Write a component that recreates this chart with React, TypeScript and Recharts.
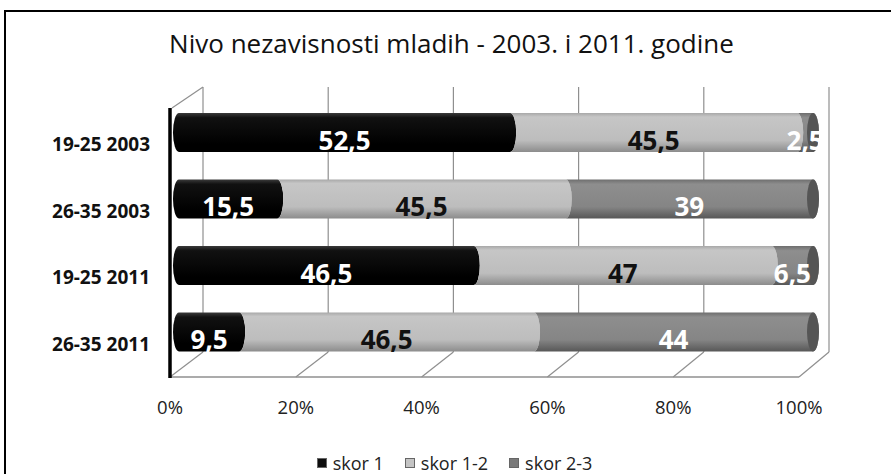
import React from "react";
import { BarChart, Bar, XAxis, YAxis, LabelList, Legend } from "recharts";

// ---- data ----
const categories = ["19-25 2003", "26-35 2003", "19-25 2011", "26-35 2011"];
const skor1 = [52.5, 15.5, 46.5, 9.5];
const skor12 = [45.5, 45.5, 47, 46.5];
const skor23 = [2.5, 39, 6.5, 44];
const seriesNames = ["skor 1", "skor 1-2", "skor 2-3"];
const xTicks = [0, 0.2, 0.4, 0.6, 0.8, 1];

const data = categories.map((name, i) => ({
  name,
  s1: skor1[i],
  s12: skor12[i],
  s23: skor23[i],
}));

// ---- layout ----
const W = 891;
const H = 474;
const PLOT_LEFT = 179;
const PLOT_RIGHT = 813;
const PLOT_TOP = 99;
const PLOT_BOTTOM = 365;
const X_AXIS_H = 50;
const BAR_SIZE = 39;
const CAP_RX = 6;

// pseudo-3d frame (back wall + floor)
const WALL_LEFT = 203;
const WALL_RIGHT = 829;
const WALL_TOP = 87;
const WALL_BOTTOM = 352;
const FLOOR_LEFT = 170;
const FLOOR_RIGHT = 799;
const FLOOR_Y = 377;

const FONT = "'Open Sans', 'Noto Sans', sans-serif";
const GRID = "#8f8f8f";

const legendColors: Record<string, string> = {
  s1: "#0d0d0d",
  s12: "#c4c4c4",
  s23: "#7a7a7a",
};

const fmt = (v: number) => String(v).replace(".", ",");

// cylinder-ish segment: rounded left end on the first series, concave on the others
const makeShape = (gradId: string, first: boolean, last: boolean, capFill: string) => (props: any) => {
  const { x, y, width, height } = props;
  if (!width || width <= 0) return null;
  const ry = height / 2;
  const x2 = x + width;
  const yb = y + height;
  const leftArc = first
    ? `A${CAP_RX},${ry} 0 0 1 ${x},${y}`
    : `A${CAP_RX},${ry} 0 0 0 ${x},${y}`;
  const d = `M${x},${y} L${x2},${y} A${CAP_RX},${ry} 0 0 1 ${x2},${yb} L${x},${yb} ${leftArc} Z`;
  return (
    <g>
      <path d={d} fill={`url(#${gradId})`} />
      {last && <ellipse cx={x2} cy={y + ry} rx={CAP_RX} ry={ry} fill={capFill} />}
    </g>
  );
};

const makeLabel = (color: string) => (props: any) => {
  const { x, y, width, height, value } = props;
  return (
    <text
      x={Number(x) + Number(width) / 2}
      y={Number(y) + Number(height) / 2 + 7}
      fill={color}
      textAnchor="middle"
      dominantBaseline="central"
      fontSize={26}
      fontWeight={700}
      fontFamily={FONT}
    >
      {fmt(value)}
    </text>
  );
};

const XTick = (props: any) => {
  const { x, payload } = props;
  // labels sit on the front edge of the floor
  const fx = FLOOR_LEFT + ((x - PLOT_LEFT) * (FLOOR_RIGHT - FLOOR_LEFT)) / (PLOT_RIGHT - PLOT_LEFT);
  return (
    <text x={fx} y={FLOOR_Y + 29} textAnchor="middle" dominantBaseline="central" fontSize={18.5} fontFamily={FONT} fill="#222">
      {Math.round(payload.value * 100)}%
    </text>
  );
};

const YTick = (props: any) => {
  const { x, y, payload } = props;
  return (
    <text x={x} y={y + 12} textAnchor="end" dominantBaseline="central" fontSize={19} fontWeight={700} fontFamily={FONT} fill="#111">
      {payload.value}
    </text>
  );
};

const LegendContent = (props: any) => {
  const { payload } = props;
  return (
    <div
      style={{
        display: "flex",
        justifyContent: "center",
        paddingLeft: 18,
        gap: 21,
        fontFamily: FONT,
        fontSize: 18,
        color: "#222",
        lineHeight: "18px",
        height: 18,
      }}
    >
      {(payload || []).map((p: any) => (
        <span key={p.value} style={{ display: "flex", alignItems: "center" }}>
          <span
            style={{
              width: 10,
              height: 10,
              marginRight: 6,
              background: legendColors[p.dataKey],
              border: "1px solid #666",
              boxSizing: "border-box",
            }}
          />
          {p.value}
        </span>
      ))}
    </div>
  );
};

function Frame() {
  return (
    <svg width={W} height={H} style={{ position: "absolute", left: 0, top: 0 }}>
      {xTicks.map((t) => {
        const wx = WALL_LEFT + t * (WALL_RIGHT - WALL_LEFT);
        const fx = FLOOR_LEFT + t * (FLOOR_RIGHT - FLOOR_LEFT);
        return (
          <g key={t}>
            <line x1={wx} y1={WALL_TOP} x2={wx} y2={WALL_BOTTOM} stroke={GRID} strokeWidth={1.2} />
            <line x1={fx} y1={FLOOR_Y} x2={wx} y2={WALL_BOTTOM} stroke={GRID} strokeWidth={1.2} />
          </g>
        );
      })}
      <line x1={FLOOR_LEFT} y1={FLOOR_Y} x2={FLOOR_RIGHT} y2={FLOOR_Y} stroke={GRID} strokeWidth={1.4} />
      <line x1={FLOOR_LEFT + 2} y1={108} x2={WALL_LEFT} y2={WALL_TOP} stroke={GRID} strokeWidth={1.2} />
      <line x1={FLOOR_LEFT} y1={108} x2={FLOOR_LEFT} y2={FLOOR_Y + 1} stroke="#000" strokeWidth={3.5} />
    </svg>
  );
}

export default function App() {
  return (
    <div style={{ position: "absolute", left: 0, top: 0, width: W, height: H, overflow: "hidden", background: "#fff" }}>
      <div
        style={{
          position: "absolute",
          left: 4,
          top: 10,
          width: W + 20,
          height: H + 20,
          border: "2.5px solid #000",
        }}
      />
      <div
        style={{
          position: "absolute",
          left: 12,
          top: 27,
          width: W - 12,
          textAlign: "center",
          fontFamily: FONT,
          fontSize: 26,
          lineHeight: "32px",
          color: "#111",
        }}
      >
        Nivo nezavisnosti mladih - 2003. i 2011. godine
      </div>
      <Frame />
      <div style={{ position: "absolute", left: 0, top: 0 }}>
        <BarChart
          width={W}
          height={H}
          data={data}
          layout="vertical"
          stackOffset="expand"
          margin={{ top: PLOT_TOP, right: W - PLOT_RIGHT, bottom: H - PLOT_BOTTOM - X_AXIS_H, left: 0 }}
        >
          <defs>
            <linearGradient id="gS1" x1="0" y1="0" x2="0" y2="1">
              <stop offset="0%" stopColor="#3a3a3a" />
              <stop offset="12%" stopColor="#111" />
              <stop offset="80%" stopColor="#000" />
              <stop offset="100%" stopColor="#000" />
            </linearGradient>
            <linearGradient id="gS12" x1="0" y1="0" x2="0" y2="1">
              <stop offset="0%" stopColor="#a8a8a8" />
              <stop offset="10%" stopColor="#c6c6c6" />
              <stop offset="70%" stopColor="#bdbdbd" />
              <stop offset="100%" stopColor="#8c8c8c" />
            </linearGradient>
            <linearGradient id="gS23" x1="0" y1="0" x2="0" y2="1">
              <stop offset="0%" stopColor="#6e6e6e" />
              <stop offset="12%" stopColor="#8e8e8e" />
              <stop offset="70%" stopColor="#858585" />
              <stop offset="100%" stopColor="#575757" />
            </linearGradient>
          </defs>
          <XAxis
            type="number"
            domain={[0, 1]}
            ticks={xTicks}
            interval={0}
            axisLine={false}
            tickLine={false}
            height={X_AXIS_H}
            tick={XTick}
          />
          <YAxis
            type="category"
            dataKey="name"
            width={PLOT_LEFT}
            axisLine={false}
            tickLine={false}
            tickSize={0}
            tickMargin={29}
            tick={YTick}
          />
          <Legend
            verticalAlign="middle"
            align="center"
            layout="horizontal"
            wrapperStyle={{ top: 454, left: 0, width: W, height: 18 }}
            content={LegendContent}
          />
          <Bar dataKey="s1" name={seriesNames[0]} stackId="a" fill="url(#gS1)" barSize={BAR_SIZE} isAnimationActive={false} shape={makeShape("gS1", true, false, "#222")}>
            <LabelList dataKey="s1" content={makeLabel("#fff")} />
          </Bar>
          <Bar dataKey="s12" name={seriesNames[1]} stackId="a" fill="url(#gS12)" barSize={BAR_SIZE} isAnimationActive={false} shape={makeShape("gS12", false, false, "#999")}>
            <LabelList dataKey="s12" content={makeLabel("#111")} />
          </Bar>
          <Bar dataKey="s23" name={seriesNames[2]} stackId="a" fill="url(#gS23)" barSize={BAR_SIZE} isAnimationActive={false} shape={makeShape("gS23", false, true, "#555")}>
            <LabelList dataKey="s23" content={makeLabel("#fff")} />
          </Bar>
        </BarChart>
      </div>
    </div>
  );
}
